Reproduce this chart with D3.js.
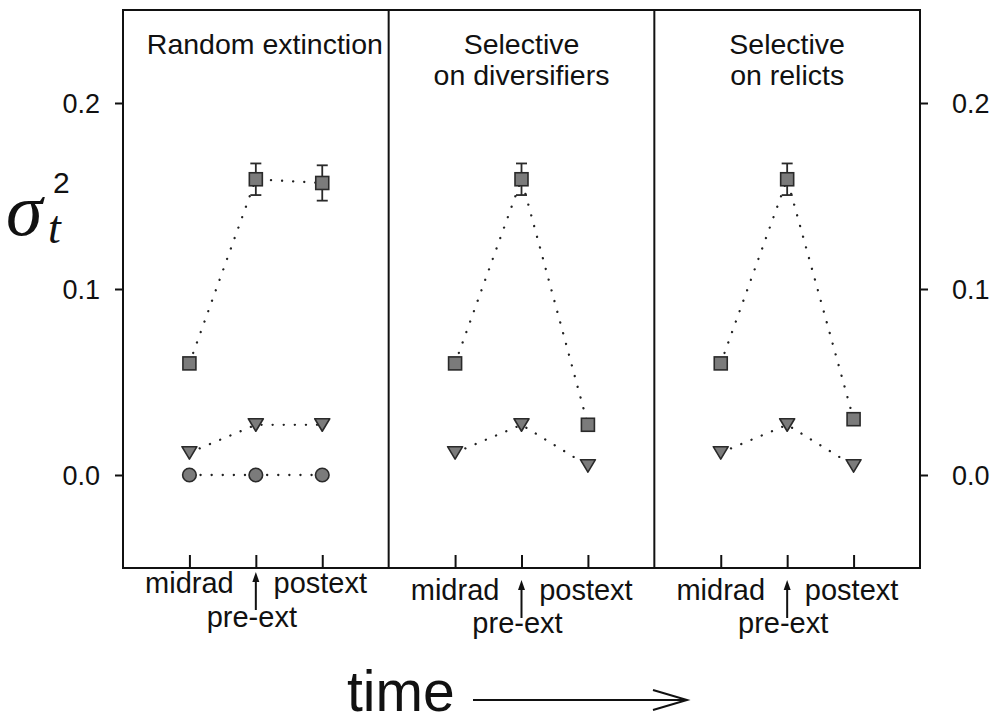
<!DOCTYPE html>
<html><head><meta charset="utf-8">
<script src="https://cdn.jsdelivr.net/npm/d3@7"></script>
<style>body{margin:0;background:#fff}svg{display:block}</style>
</head><body>
<svg id="c" width="1000" height="717"></svg>
<script>
// ---- data ----
const categories = ["midrad", "pre-ext", "postext"];
const panelTitles = [["Random extinction"], ["Selective", "on diversifiers"], ["Selective", "on relicts"]];
const yTicks = [0.0, 0.1, 0.2];
const yTickLabels = ["0.0", "0.1", "0.2"];
// squares (with error bars), triangles, circles per panel
const squareRandom = [0.060, 0.159, 0.157];
const squareDiversifiers = [0.060, 0.159, 0.027];
const squareRelicts = [0.060, 0.159, 0.030];
const errRandom = [0, 0.0085, 0.0095];
const errDiversifiers = [0, 0.0085, 0];
const errRelicts = [0, 0.0085, 0];
const triRandom = [0.012, 0.027, 0.027];
const triDiversifiers = [0.012, 0.027, 0.005];
const triRelicts = [0.012, 0.027, 0.005];
const circleRandom = [0.0, 0.0, 0.0];
const xLabel = "time";

const panels = [
  {title: panelTitles[0], sq: squareRandom, err: errRandom, tri: triRandom, circ: circleRandom},
  {title: panelTitles[1], sq: squareDiversifiers, err: errDiversifiers, tri: triDiversifiers, circ: null},
  {title: panelTitles[2], sq: squareRelicts, err: errRelicts, tri: triRelicts, circ: null}
];

(function () {
// ---- layout ----
const svg = d3.select("#c");
const L = 123, R = 920, T = 10, B = 568;
const pw = (R - L) / 3;
const y = d3.scaleLinear().domain([-0.05, 0.25]).range([B, T]);
const font = "'Liberation Sans', Arial, Helvetica, sans-serif";
const ink = "#111";
const fillGray = "#7b7b7b", strokeDark = "#2a2a2a";
const fs = 28.5;

const yAxisL = d3.axisLeft(y).tickValues(yTicks).tickFormat((d,i)=>yTickLabels[i]).tickSize(8).tickPadding(15);
const yAxisR = d3.axisRight(y).tickValues(yTicks).tickFormat((d,i)=>yTickLabels[i]).tickSize(8).tickPadding(24);
[[yAxisL, L], [yAxisR, R]].forEach(([ax, x0]) => {
  const g = svg.append("g").attr("transform", `translate(${x0},0)`).call(ax);
  g.select(".domain").remove();
  g.selectAll("line").attr("stroke", ink).attr("stroke-width", 2);
  g.selectAll("text").attr("font-family", font).attr("font-size", 27).attr("fill", ink).attr("dy", "0.36em");
});

const labelY = [[593, 627, 572, 610], [600, 633, 580, 618], [600, 633, 580, 618]];

panels.forEach((p, i) => {
  const x0 = L + i * pw;
  const x = d3.scalePoint().domain(categories).range([x0 + pw/4, x0 + 3*pw/4]);
  const g = svg.append("g");

  const xa = d3.axisBottom(x).tickSize(-13).tickFormat("");
  const ga = g.append("g").attr("transform", `translate(0,${B})`).call(xa);
  ga.select(".domain").remove();
  ga.selectAll("line").attr("stroke", ink).attr("stroke-width", 2);

  const tx = x0 + pw/2 + (i === 0 ? 9 : 0);
  p.title.forEach((t, k) => {
    g.append("text").attr("x", tx).attr("y", 54 + k*31).attr("text-anchor", "middle")
      .attr("font-family", font).attr("font-size", fs).attr("fill", ink).text(t);
  });

  const ly = labelY[i];
  g.append("text").attr("x", x("midrad")).attr("y", ly[0]).attr("text-anchor", "middle")
    .attr("font-family", font).attr("font-size", fs + 0.5).attr("fill", ink).text(categories[0]);
  g.append("text").attr("x", x("postext") - 2).attr("y", ly[0]).attr("text-anchor", "middle")
    .attr("font-family", font).attr("font-size", fs + 0.5).attr("fill", ink).text(categories[2]);
  g.append("text").attr("x", x("pre-ext") - 4).attr("y", ly[1]).attr("text-anchor", "middle")
    .attr("font-family", font).attr("font-size", fs + 0.5).attr("fill", ink).text(categories[1]);
  const ax = x("pre-ext");
  g.append("line").attr("x1", ax).attr("x2", ax).attr("y1", ly[2] + 6).attr("y2", ly[3])
    .attr("stroke", ink).attr("stroke-width", 2);
  g.append("path").attr("d", `M${ax},${ly[2]} L${ax-3.5},${ly[2]+10} L${ax+3.5},${ly[2]+10} Z`).attr("fill", ink);

  const line = d3.line().x((d, j) => x(categories[j])).y(d => y(d));
  const dotted = s => g.append("path").datum(s).attr("d", line).attr("fill", "none")
    .attr("stroke", "#222").attr("stroke-width", 2.3).attr("stroke-linecap", "round")
    .attr("stroke-dasharray", "0.1 11");
  dotted(p.sq); dotted(p.tri); if (p.circ) dotted(p.circ);

  p.sq.forEach((v, j) => {
    const e = p.err[j]; if (!e) return;
    const cx = x(categories[j]);
    g.append("line").attr("x1", cx).attr("x2", cx).attr("y1", y(v + e)).attr("y2", y(v - e))
      .attr("stroke", strokeDark).attr("stroke-width", 1.8);
    [v + e, v - e].forEach(w => g.append("line").attr("x1", cx - 5.5).attr("x2", cx + 5.5)
      .attr("y1", y(w)).attr("y2", y(w)).attr("stroke", strokeDark).attr("stroke-width", 1.8));
  });

  g.selectAll(".sq").data(p.sq).enter().append("rect")
    .attr("x", (d, j) => x(categories[j]) - 6.5).attr("y", d => y(d) - 6.5)
    .attr("width", 13).attr("height", 13)
    .attr("fill", fillGray).attr("stroke", strokeDark).attr("stroke-width", 1.6);
  g.selectAll(".tri").data(p.tri).enter().append("path")
    .attr("d", (d, j) => { const cx = x(categories[j]), cy = y(d);
      return `M${cx-7.5},${cy-6} L${cx+7.5},${cy-6} L${cx},${cy+6.5} Z`; })
    .attr("fill", fillGray).attr("stroke", strokeDark).attr("stroke-width", 1.6).attr("stroke-linejoin", "round");
  if (p.circ) g.selectAll(".ci").data(p.circ).enter().append("circle")
    .attr("cx", (d, j) => x(categories[j])).attr("cy", d => y(d)).attr("r", 6.8)
    .attr("fill", fillGray).attr("stroke", strokeDark).attr("stroke-width", 1.6);
});

svg.append("rect").attr("x", L).attr("y", T).attr("width", R - L).attr("height", B - T)
  .attr("fill", "none").attr("stroke", ink).attr("stroke-width", 2);
[1, 2].forEach(k => svg.append("line").attr("x1", L + k*pw).attr("x2", L + k*pw)
  .attr("y1", T).attr("y2", B).attr("stroke", ink).attr("stroke-width", 2));

const yl = svg.append("g");
yl.append("text").attr("x", 6).attr("y", 235).attr("font-family", "'Liberation Serif', 'Times New Roman', serif")
  .attr("font-style", "italic").attr("font-size", 74).attr("fill", ink).text("σ");
yl.append("text").attr("x", 48).attr("y", 243).attr("font-family", "'Liberation Serif', 'Times New Roman', serif")
  .attr("font-style", "italic").attr("font-size", 46).attr("fill", ink).text("t");
yl.append("text").attr("x", 53).attr("y", 193).attr("font-family", font)
  .attr("font-size", 30).attr("fill", ink).text("2");

svg.append("text").attr("x", 347).attr("y", 711).attr("font-family", font).attr("font-size", 57)
  .attr("fill", ink).text(xLabel);
svg.append("line").attr("x1", 473).attr("x2", 686).attr("y1", 700).attr("y2", 700).attr("stroke", ink).attr("stroke-width", 2);
svg.append("path").attr("d", "M653,690 L687,700 L653,710").attr("fill", "none").attr("stroke", ink).attr("stroke-width", 2);
})();
</script>
</body></html>
